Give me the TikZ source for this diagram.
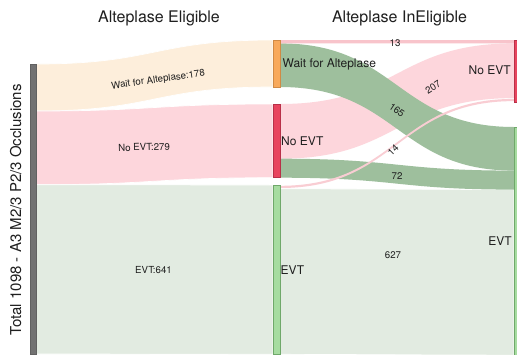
\documentclass[tikz,border=0pt]{standalone}
\usepackage{fontspec}
\setmainfont{TeX Gyre Heros}
\usetikzlibrary{calc}
\pgfdeclarelayer{bg}
\pgfsetlayers{bg,main}
\definecolor{peach}{HTML}{FDEEDB}
\definecolor{lpink}{HTML}{FDD6DC}
\definecolor{lgreen}{HTML}{E2EBE1}
\definecolor{sage}{HTML}{9EBF9D}
\definecolor{tpink}{HTML}{F8C4CB}
\definecolor{tpinkb}{HTML}{F9CDD3}
\definecolor{orfill}{HTML}{F8A95B}
\definecolor{ordraw}{HTML}{D08A45}
\definecolor{rdfill}{HTML}{E8445E}
\definecolor{rddraw}{HTML}{B83048}
\definecolor{grfill}{HTML}{A6DCA0}
\definecolor{grdraw}{HTML}{6FA86A}
\definecolor{barg}{HTML}{727272}
\newcommand\flowband[6]{%
  \path ([yshift=-#2pt]#1.north east) coordinate (fA) ([yshift=-#4pt]#3.north west) coordinate (fB);
  \fill[#6] let \p1=(fA), \p2=(fB), \n1={0.5*\x1+0.5*\x2} in
    (\p1) .. controls (\n1,\y1) and (\n1,\y2) .. (\p2)
    -- (\x2,\y2-#5pt) .. controls (\n1,\y2-#5pt) and (\n1,\y1-#5pt) .. (\x1,\y1-#5pt) -- cycle;}
\tikzset{
  bar/.style={rectangle, inner sep=0, outer sep=0, minimum width=7pt, line width=0.6pt, anchor=north west},
  txt/.style={inner sep=0, text height=0.72em, text depth=0pt, text=black!88},
  hdr/.style={txt, font=\fontsize{16}{16}\selectfont},
  nlbl/.style={txt, font=\fontsize{12}{12}\selectfont},
  flbl/.style={txt, font=\fontsize{9.7}{9.7}\selectfont},
  gap/.style={draw=white, line width=0.7pt}
}
\begin{document}
\begin{tikzpicture}[x=1pt,y=-1pt]
\useasboundingbox (0,0) rectangle (517,354);
% nodes
\node[bar, minimum width=6pt, minimum height=290pt, fill=barg, draw=barg!85!black] (total) at (30.5,64) {};
\node[bar, minimum height=47pt, fill=orfill, draw=ordraw] (wait) at (273,40) {};
\node[bar, minimum height=73.7pt, fill=rdfill, draw=rddraw] (noevtA) at (273,104) {};
\node[bar, minimum height=169.3pt, fill=grfill, draw=grdraw] (evtA) at (273,185) {};
\node[bar, minimum height=61.8pt, fill=rdfill, draw=rddraw] (noevtB) at (514,40) {};
\node[bar, minimum height=228.2pt, fill=grfill, draw=grdraw] (evtB) at (514,127) {};
% flows
\begin{pgfonlayer}{bg}
\fill[white] (0,0) rectangle (517,354);
\flowband{total}{0}{wait}{0}{47}{peach,gap}
\flowband{total}{47}{noevtA}{0}{73.7}{lpink,gap}
\flowband{total}{120.7}{evtA}{0}{169.3}{lgreen,gap}
\flowband{evtA}{3.7}{evtB}{62.6}{165.6}{lgreen,gap}
\flowband{noevtA}{0}{noevtB}{3.4}{54.7}{lpink}
\flowband{wait}{3.4}{evtB}{0}{43.6}{sage}
\flowband{noevtA}{54.7}{evtB}{43.6}{19}{sage}
\flowband{wait}{0}{noevtB}{0}{3.4}{tpink}
\flowband{evtA}{0.8}{noevtB}{58.9}{2.2}{tpinkb}
\end{pgfonlayer}
% headers
\node[hdr] (h1) at (159,19) {Alteplase Eligible};
\node[hdr] (h2) at (399.5,19) {Alteplase InEligible};
\node[txt, font=\fontsize{15}{15}\selectfont, rotate=90] (title) at (17.5,210) {Total 1098 - A3 M2/3 P2/3 Occlusions};
% left flow labels
\node[flbl, rotate=8] (l1) at (158,79) {Wait for Alteplase:178};
\node[flbl, rotate=1.5] (l2) at (144,147) {No EVT:279};
\node[flbl] (l3) at (153.5,270) {EVT:641};
% node labels
\node[nlbl, anchor=west] (n1) at (282.5,64) {Wait for Alteplase};
\node[nlbl, anchor=west] (n2) at (281,142) {No EVT};
\node[nlbl, anchor=west] (n3) at (280.5,271) {EVT};
\node[nlbl, anchor=east] (n4) at (511,71) {No EVT};
\node[nlbl, anchor=east] (n5) at (512,242) {EVT};
% middle flow labels
\node[flbl] (f13) at (395,43) {13};
\node[flbl, rotate=33] (f207) at (433,87) {207};
\node[flbl, rotate=-34] (f165) at (397,110) {165};
\node[flbl, rotate=45] (f14) at (393,150) {14};
\node[flbl] (f72) at (397,176) {72};
\node[flbl] (f627) at (393,255) {627};
\end{tikzpicture}
\end{document}
